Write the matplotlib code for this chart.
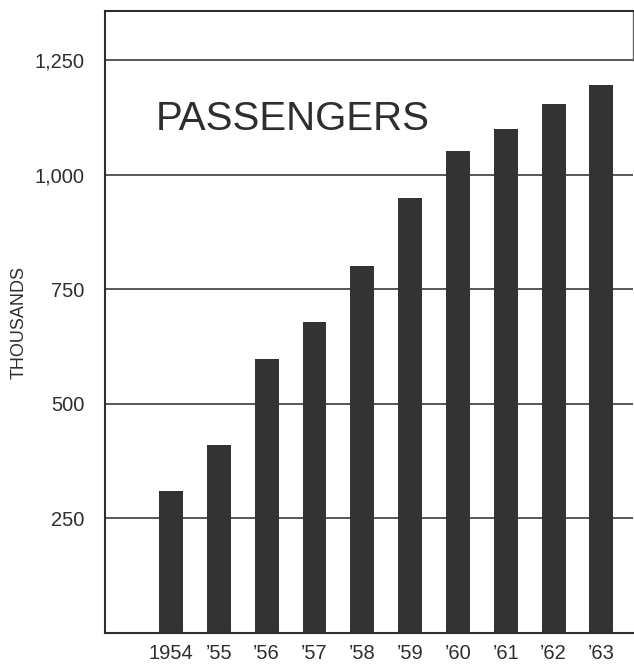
import matplotlib
matplotlib.use("Agg")
import matplotlib.pyplot as plt

# Annual passengers, thousands
years = ["1954", "\u201955", "\u201956", "\u201957", "\u201958",
         "\u201959", "\u201960", "\u201961", "\u201962", "\u201963"]
passengers = [310, 410, 598, 678, 800, 950, 1052, 1100, 1155, 1195]
ytick_values = [250, 500, 750, 1000, 1250]
ytick_labels = ["250", "500", "750", "1,000", "1,250"]

ink = "#2e2e2e"
plt.rcParams["font.family"] = ["Liberation Sans", "DejaVu Sans"]

W, H = 634, 668
fig = plt.figure(figsize=(W / 100, H / 100), dpi=100)
left, right, bottom, top = 105, 633, 633, 11
ax = fig.add_axes([left / W, (H - bottom) / H, (right - left) / W, (bottom - top) / H])

x = list(range(len(years)))
ax.set_xlim(-1.38, 9.66)
ax.set_ylim(0, 1357)

# horizontal rules behind the bars
for v in ytick_values:
    ax.axhline(v, color="#3a3a3a", lw=1.2, zorder=1)

ax.bar(x, passengers, width=0.5, color="#333333", zorder=2)

for side in ["left", "bottom", "top"]:
    ax.spines[side].set_linewidth(1.5)
    ax.spines[side].set_color(ink)
ax.spines["right"].set_linewidth(1.0)
ax.spines["right"].set_color("#666666")
ax.spines["right"].set_bounds(1250, 1357)

ax.set_xticks(x)
ax.set_xticklabels(years, fontsize=14.5, color=ink)
ax.set_yticks(ytick_values)
ax.set_yticklabels(ytick_labels, fontsize=14.5, color=ink)
ax.tick_params(axis="both", length=0)
ax.tick_params(axis="y", pad=15)
ax.tick_params(axis="x", pad=8)

fig.text(19 / W, 1 - 323 / H, "THOUSANDS", rotation=90, fontsize=13,
         color=ink, ha="center", va="center")
ax.text(0.355, 0.827, "PASSENGERS", transform=ax.transAxes, fontsize=29,
        color=ink, ha="center", va="center")

fig.savefig("out.png", dpi=100)
